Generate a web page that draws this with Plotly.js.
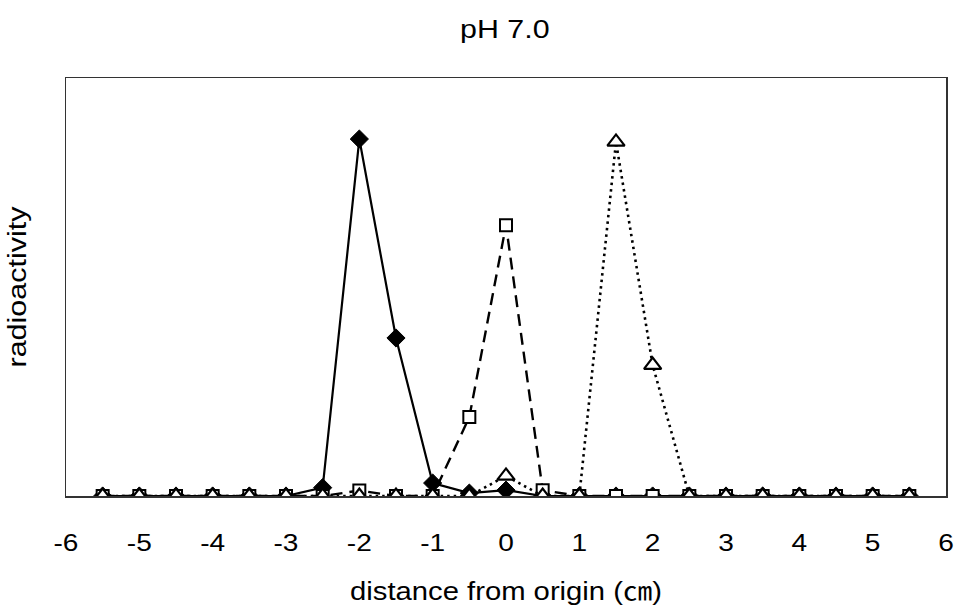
<!DOCTYPE html>
<html>
<head>
<meta charset="utf-8">
<script src="https://cdn.plot.ly/plotly-3.0.1.min.js"></script>
<style>
html,body{margin:0;padding:0;background:#fff;}
#chart .g-gtitle, #chart .g-xtitle, #chart .xtick {
  transform-box: fill-box; transform-origin: center; transform: scaleX(1.17);
}
#chart .g-ytitle {
  transform-box: fill-box; transform-origin: center; transform: scaleY(1.22);
}
</style>
</head>
<body>
<div id="chart" style="width:958px;height:612px;"></div>
<script>
var distance = [-5.5,-5,-4.5,-4,-3.5,-3,-2.5,-2,-1.5,-1,-0.5,0,0.5,1,1.5,2,2.5,3,3.5,4,4.5,5,5.5];
var seriesDiamond  = [0,0,0,0,0,0,2,85.4,37.8,3.1,0.7,1.4,0,0,0,0,0,0,0,0,0,0,0];
var seriesSquare   = [0,0,0,0,0,0,0,1.3,0,0,18.9,64.8,1.4,0,0,0,0,0,0,0,0,0,0];
var seriesTriangle = [0,0,0,0,0,0,0,0,0,0,0,4.8,0,0,84.7,31.3,0,0,0,0,0,0,0];
var xTickVals = [-6,-5,-4,-3,-2,-1,0,1,2,3,4,5,6];

var fontFam = 'Liberation Sans, Arial, Noto Sans CJK JP, sans-serif';

var traces = [
  {x: distance, y: seriesDiamond, mode: 'lines+markers', name: 'A',
   line: {color: '#000', width: 2.2, dash: 'solid'},
   marker: {symbol: 'diamond', size: 14, color: '#000', line: {color: '#000', width: 1}}},
  {x: distance, y: seriesSquare, mode: 'lines+markers', name: 'B',
   line: {color: '#000', width: 2.4, dash: '12px,7px'},
   marker: {symbol: 'square', size: 12, color: '#fff', line: {color: '#000', width: 2}}},
  {x: distance, y: seriesTriangle, mode: 'lines+markers', name: 'C',
   line: {color: '#000', width: 2.6, dash: '2.5px,4px'},
   marker: {symbol: 'triangle-up', size: 15, color: '#fff', line: {color: '#000', width: 2.2}}}
];

var layout = {
  width: 958, height: 612,
  margin: {l: 66, r: 12, t: 78, b: 116},
  paper_bgcolor: '#fff', plot_bgcolor: '#fff',
  showlegend: false,
  font: {family: fontFam, color: '#000'},
  title: {text: 'pH 7.0', font: {size: 26, family: fontFam, color: '#000'},
          x: 0.527, xanchor: 'center', y: 1 - 29/612, yanchor: 'middle', yref: 'container'},
  xaxis: {
    range: [-6, 6], tickvals: xTickVals, ticktext: xTickVals.map(String),
    showgrid: false, zeroline: false, showline: true, linecolor: '#333', linewidth: 1.5,
    mirror: true, ticks: '', tickfont: {size: 24, family: fontFam, color: '#000'},
    ticklabelstandoff: 25,
    title: {text: 'distance from origin (㎝)', font: {size: 25, family: fontFam, color: '#000'}, standoff: 27}
  },
  yaxis: {
    range: [0, 100], showticklabels: false, showgrid: false, zeroline: false,
    showline: true, linecolor: '#333', linewidth: 1.5, mirror: true, ticks: '',
    title: {text: 'radioactivity', font: {size: 25, family: fontFam, color: '#000'}, standoff: 30}
  }
};

Plotly.newPlot('chart', traces, layout, {displayModeBar: false, staticPlot: true});
</script>
</body>
</html>
